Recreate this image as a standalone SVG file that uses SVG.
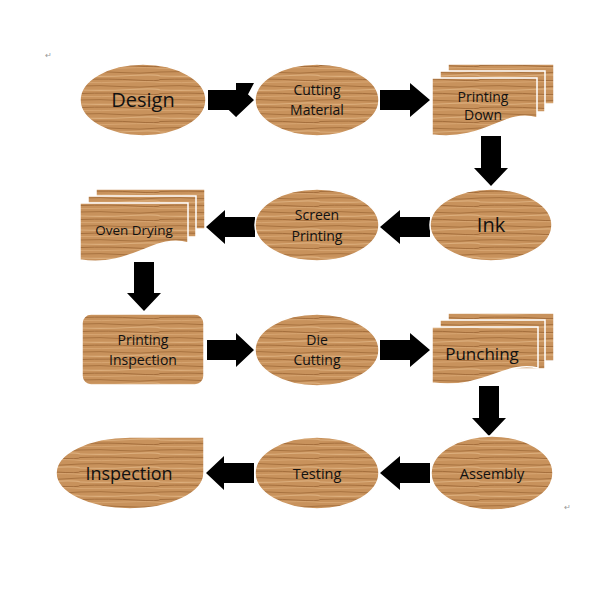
<svg xmlns="http://www.w3.org/2000/svg" width="600" height="600" viewBox="0 0 600 600">
<defs>
<pattern id="wood" patternUnits="userSpaceOnUse" width="80" height="14">
<rect width="80" height="14" fill="#c8925c"/>
<path d="M0,2 Q20,1 40,2.5 T80,2" stroke="#a8723f" stroke-width="1" fill="none"/>
<path d="M0,6 Q25,7 50,5.5 T80,6" stroke="#dcae7c" stroke-width="1.2" fill="none"/>
<path d="M0,9.5 Q30,8.5 55,10 T80,9.5" stroke="#9a6534" stroke-width="0.8" fill="none"/>
<path d="M0,12.5 Q20,13 45,12 T80,12.5" stroke="#d7a571" stroke-width="1" fill="none"/>
</pattern>
<path id="arR" d="M0,-10 H28 V-17 H45 L28,17 V10 H0 Z"/>
</defs>
<style>
.w{fill:url(#wood);stroke:#fff;stroke-width:1.5}
.t{font-family:"Open Sans","Noto Sans",sans-serif;fill:#111;text-anchor:middle}
.a{fill:#000}
</style>
<rect width="600" height="600" fill="#fff"/>
<text x="45" y="58" font-size="8" fill="#999" font-family="Liberation Sans,sans-serif">↵</text>
<text x="564" y="510" font-size="8" fill="#999" font-family="Liberation Sans,sans-serif">↵</text>

<g id="connectors">
<path class="a" d="M208,90 H236 V83 H254 L236,117 Z M208,110 H236"/>
<path class="a" d="M208,90 H236 V83 L254,100 L236,117 V110 H208 Z"/>
<path class="a" d="M380,90 H410 V83 L430,100 L410,117 V110 H380 Z"/>
<path class="a" d="M481,136 H501 V168 H508 L491,186 L474,168 H481 Z"/>
<path class="a" d="M430,217 H400 V210 L380,227 L400,244 V237 H430 Z"/>
<path class="a" d="M255,217 H225 V210 L206,227 L225,244 V237 H255 Z"/>
<path class="a" d="M134,262 H154 V293 H161 L144,311 L127,293 H134 Z"/>
<path class="a" d="M207,340 H236 V333 L254,350 L236,367 V360 H207 Z"/>
<path class="a" d="M380,340 H410 V333 L430,350 L410,367 V360 H380 Z"/>
<path class="a" d="M479,386 H499 V418 H506 L489,436 L472,418 H479 Z"/>
<path class="a" d="M430,463 H400 V456 L380,473 L400,490 V483 H430 Z"/>
<path class="a" d="M254,463 H224 V456 L206,473 L224,490 V483 H254 Z"/>
</g>

<g id="design"><ellipse class="w" cx="143" cy="100" rx="63" ry="36"/><text class="t" x="143" y="107" font-size="20">Design</text></g>
<g id="cutting"><ellipse class="w" cx="317" cy="100" rx="62" ry="36"/><text class="t" x="317" y="95" font-size="14">Cutting</text><text class="t" x="317" y="115" font-size="14">Material</text></g>
<g id="printingdown">
<path class="w" d="M448,64 H554 V104 H448 Z"/>
<path class="w" d="M440,71 H545 V112 H440 Z"/>
<path class="w" d="M432,78 H537 V118 C505,108 485,142 432,135 Z"/>
<text class="t" x="483" y="102" font-size="14">Printing</text><text class="t" x="483" y="120" font-size="14">Down</text></g>
<g id="ink"><ellipse class="w" cx="491" cy="225" rx="61" ry="36"/><text class="t" x="491" y="232" font-size="20">Ink</text></g>
<g id="screen"><ellipse class="w" cx="317" cy="225" rx="62" ry="36"/><text class="t" x="317" y="220" font-size="14">Screen</text><text class="t" x="317" y="241" font-size="14">Printing</text></g>
<g id="oven">
<path class="w" d="M96,189 H205 V229 H96 Z"/>
<path class="w" d="M88,196 H196 V237 H88 Z"/>
<path class="w" d="M80,203 H188 V243 C155,233 132,268 80,260 Z"/>
<text class="t" x="134" y="235" font-size="13.5">Oven Drying</text></g>
<g id="printinsp"><rect class="w" x="82" y="314" width="122" height="71" rx="9"/><text class="t" x="143" y="345" font-size="14">Printing</text><text class="t" x="143" y="365" font-size="14">Inspection</text></g>
<g id="die"><ellipse class="w" cx="317" cy="350" rx="62" ry="36"/><text class="t" x="317" y="345" font-size="14">Die</text><text class="t" x="317" y="365" font-size="14">Cutting</text></g>
<g id="punching">
<path class="w" d="M448,313 H554 V361 H448 Z"/>
<path class="w" d="M440,320 H545 V369 H440 Z"/>
<path class="w" d="M432,327 H538 V368 C505,360 485,390 432,383 Z"/>
<text class="t" x="482" y="360" font-size="17">Punching</text></g>
<g id="assembly"><ellipse class="w" cx="492" cy="473" rx="61" ry="37"/><text class="t" x="492" y="479" font-size="14.5">Assembly</text></g>
<g id="testing"><ellipse class="w" cx="317" cy="473" rx="62" ry="36"/><text class="t" x="317" y="479" font-size="14.5">Testing</text></g>
<g id="inspection"><path class="w" d="M204,437 V473 A74,36 0 1 1 130,437 Z"/><text class="t" x="129" y="480" font-size="18">Inspection</text></g>
</svg>
